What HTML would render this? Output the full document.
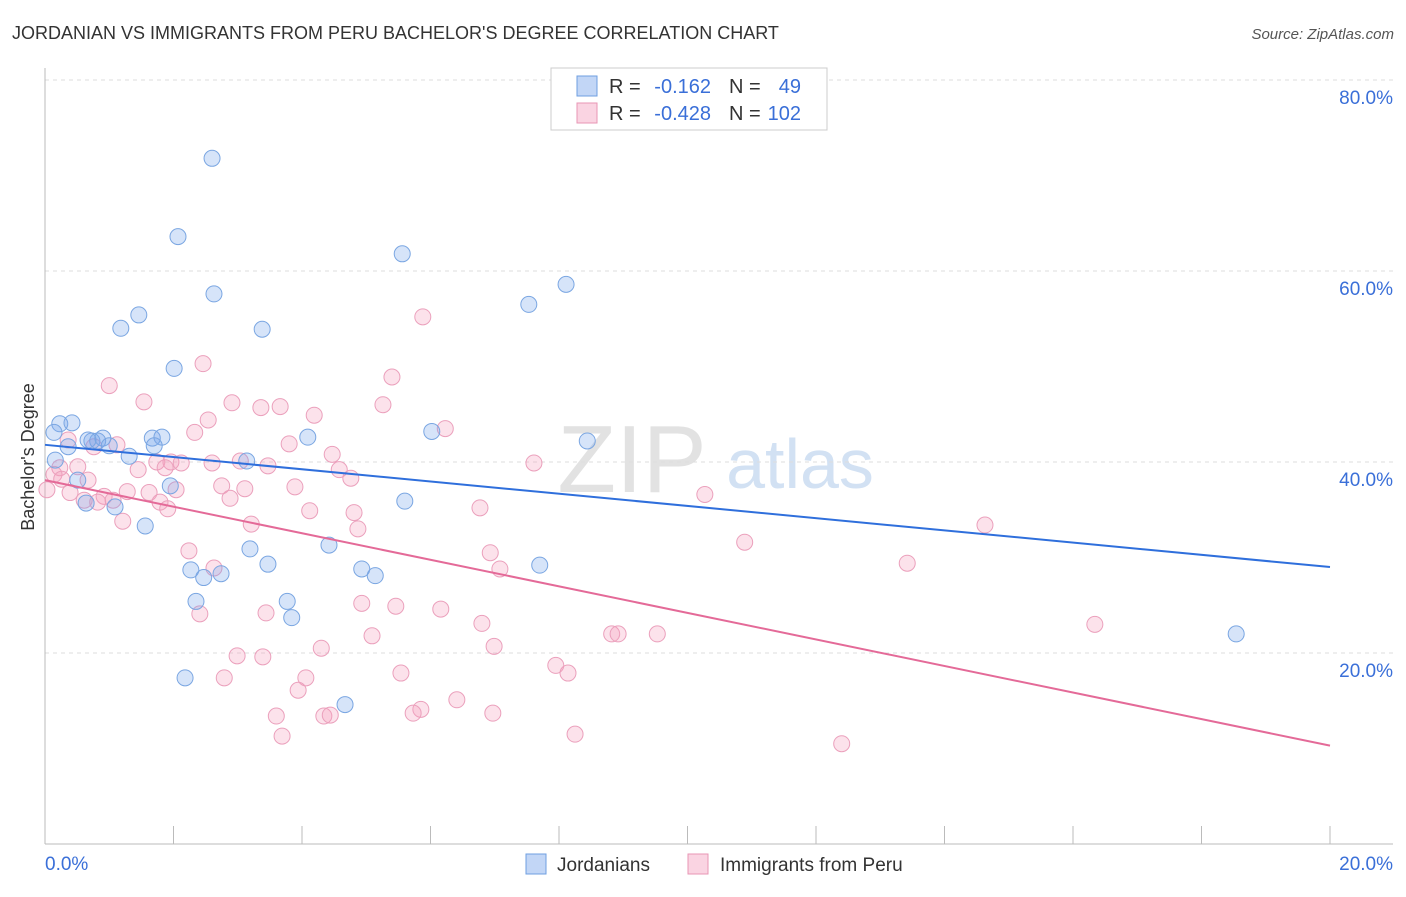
<!DOCTYPE html>
<html><head><meta charset="utf-8">
<style>
body{margin:0;background:#fff;font-family:"Liberation Sans",sans-serif;}
svg text{font-family:"Liberation Sans",sans-serif;}
</style></head>
<body>
<svg id="chart" width="1406" height="892" viewBox="0 0 1406 892" xmlns="http://www.w3.org/2000/svg">
<text x="12" y="39" font-size="18" fill="#333">JORDANIAN VS IMMIGRANTS FROM PERU BACHELOR'S DEGREE CORRELATION CHART</text>
<text x="1394" y="39" font-size="15" fill="#555" font-style="italic" text-anchor="end">Source: ZipAtlas.com</text>
<g>
<text x="632" y="492" font-size="96" fill="#e2e2e2" text-anchor="middle" font-family="Liberation Serif,serif">ZIP</text>
<text x="800" y="488" font-size="70" fill="#d2e1f3" text-anchor="middle">atlas</text>
</g>
<g id="grid"></g>
<g id="axes"></g>
<g id="points"></g>
<g id="lines"></g>
<text transform="translate(34,457) rotate(-90)" font-size="18" fill="#333" text-anchor="middle">Bachelor's Degree</text>
<g>
<rect x="551" y="68" width="276" height="62" fill="#fff" stroke="#ccc"/>
<rect x="577" y="76" width="20" height="20" fill="rgba(120,165,235,0.45)" stroke="#6f9fe0"/>
<rect x="577" y="103" width="20" height="20" fill="rgba(245,160,190,0.45)" stroke="#e896b4"/>
<text x="609" y="93" font-size="20" fill="#333">R =</text>
<text x="711" y="93" font-size="20" fill="#3a6fd8" text-anchor="end">-0.162</text>
<text x="729" y="93" font-size="20" fill="#333">N =</text>
<text x="801" y="93" font-size="20" fill="#3a6fd8" text-anchor="end">49</text>
<text x="609" y="120" font-size="20" fill="#333">R =</text>
<text x="711" y="120" font-size="20" fill="#3a6fd8" text-anchor="end">-0.428</text>
<text x="729" y="120" font-size="20" fill="#333">N =</text>
<text x="801" y="120" font-size="20" fill="#3a6fd8" text-anchor="end">102</text>
</g>
<g>
<rect x="526" y="854" width="20" height="20" fill="rgba(120,165,235,0.45)" stroke="#6f9fe0"/>
<text x="557" y="871" font-size="19" fill="#333">Jordanians</text>
<rect x="688" y="854" width="20" height="20" fill="rgba(245,160,190,0.45)" stroke="#e896b4"/>
<text x="720" y="871" font-size="19" fill="#333">Immigrants from Peru</text>
</g>
</svg>
<script>
const xTicks=[0,20];
const yTicks=[20,40,60,80];
const blueX=[2.60,2.07,5.56,8.11,2.63,7.53,1.46,1.18,3.38,2.01,0.23,0.42,0.14,0.73,0.90,0.36,0.82,1.00,1.67,1.82,1.70,4.09,6.02,8.44,1.31,3.14,0.51,1.95,0.64,1.09,5.60,1.56,4.42,3.19,3.47,7.70,2.27,2.47,2.74,4.93,5.14,2.35,3.77,3.84,2.18,4.67,18.54,0.16,0.67];
const blueY=[71.8,63.6,61.8,58.6,57.6,56.5,55.4,54.0,53.9,49.8,44.0,44.1,43.1,42.2,42.5,41.6,42.2,41.7,42.5,42.6,41.7,42.6,43.2,42.2,40.6,40.1,38.1,37.5,35.7,35.3,35.9,33.3,31.3,30.9,29.3,29.2,28.7,27.9,28.3,28.8,28.1,25.4,25.4,23.7,17.4,14.6,22.0,40.2,42.3];
const pinkX=[5.88,2.46,5.40,1.00,1.54,2.91,5.26,3.36,3.66,4.19,2.54,6.23,2.33,0.36,3.80,0.76,1.12,4.47,3.04,1.74,1.96,2.12,2.60,3.47,7.61,0.23,0.51,1.45,1.87,4.58,4.76,2.75,3.11,3.89,2.04,1.28,1.62,0.92,2.88,1.06,0.61,0.82,1.79,1.91,4.12,4.81,6.77,10.27,1.21,3.21,4.87,10.89,14.63,2.24,6.93,7.08,13.42,2.63,2.41,3.44,4.93,5.46,6.16,6.80,8.82,8.92,9.53,16.34,5.09,6.99,4.30,2.99,3.39,7.95,8.14,5.54,2.79,4.06,3.94,6.41,5.85,5.73,6.97,3.60,4.34,4.44,3.69,8.25,12.40,0.14,0.03,0.39,0.67,0.26];
const pinkY=[55.2,50.3,48.9,48.0,46.3,46.2,46.0,45.7,45.8,44.9,44.4,43.5,43.1,42.3,41.9,41.6,41.8,40.8,40.1,40.0,40.0,39.9,39.9,39.6,39.9,39.4,39.5,39.2,39.4,39.2,38.3,37.5,37.2,37.4,37.1,36.9,36.8,36.4,36.2,36.0,36.0,35.8,35.8,35.1,34.9,34.7,35.2,36.6,33.8,33.5,33.0,31.6,33.4,30.7,30.5,28.8,29.4,28.9,24.1,24.2,25.2,24.9,24.6,23.1,22.0,22.0,22.0,23.0,21.8,20.7,20.5,19.7,19.6,18.7,17.9,17.9,17.4,17.4,16.1,15.1,14.1,13.7,13.7,13.4,13.4,13.5,11.3,11.5,10.5,38.7,37.1,36.8,38.1,38.2];
const blueLine=[41.8,29.0];
const pinkLine=[38.1,10.3];
const NS="http://www.w3.org/2000/svg";
const xs=v=>45+v*64.25, ys=v=>844-v*9.55;
function mk(tag,attrs,parent){const e=document.createElementNS(NS,tag);for(const k in attrs)e.setAttribute(k,attrs[k]);document.getElementById(parent).appendChild(e);return e;}
yTicks.forEach(t=>{
 const g=mk('line',{x1:45,x2:1393,y1:ys(t),y2:ys(t),stroke:'#ddd','stroke-dasharray':'4 4'},'grid');
 
 
 const l=mk('text',{x:1393,y:ys(t)+24,'font-size':19,fill:'#3a6fd8','text-anchor':'end'},'axes');l.textContent=t.toFixed(1)+'%';
 
 
});
const ax=mk('line',{x1:45,x2:1393,y1:844,y2:844,stroke:'#bbb'},'axes');


const ay=mk('line',{x1:45,x2:45,y1:68,y2:844,stroke:'#bbb'},'axes');


for(let i=0;i<=10;i++){const t=mk('line',{x1:xs(i*2),x2:xs(i*2),y1:826,y2:844,stroke:'#bbb'},'axes');
 
 }
xTicks.forEach((t,i)=>{const l=mk('text',{x:i==0?45:1393,y:870,'font-size':19,fill:'#3a6fd8','text-anchor':i==0?'start':'end'},'axes');l.textContent=t.toFixed(1)+'%';
 
 });
pinkX.forEach((x,i)=>{const c=mk('circle',{cx:xs(x),cy:ys(pinkY[i]),r:8,fill:'rgba(245,160,190,0.3)',stroke:'#eba0bc','stroke-width':1},'points');
 
 });
blueX.forEach((x,i)=>{const c=mk('circle',{cx:xs(x),cy:ys(blueY[i]),r:8,fill:'rgba(120,165,235,0.3)',stroke:'#7aa6e2','stroke-width':1},'points');
 
 });
const bl=mk('line',{x1:xs(0),x2:xs(20),y1:ys(blueLine[0]),y2:ys(blueLine[1]),stroke:'#2f6fdc','stroke-width':2},'lines');


const pl=mk('line',{x1:xs(0),x2:xs(20),y1:ys(pinkLine[0]),y2:ys(pinkLine[1]),stroke:'#e46a98','stroke-width':2},'lines');


</script>
</body></html>
